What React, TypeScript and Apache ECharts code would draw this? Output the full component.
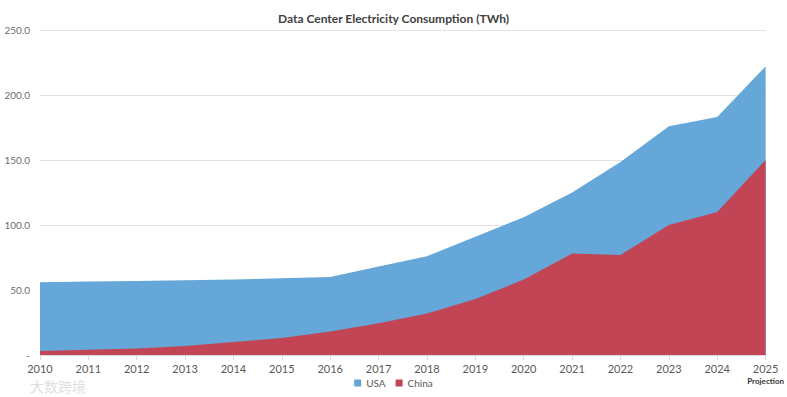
import React, { useEffect, useRef } from "react";
import * as echarts from "echarts";

const years = ["2010","2011","2012","2013","2014","2015","2016","2017","2018","2019","2020","2021","2022","2023","2024","2025"];
const usa = [56, 56.5, 57, 57.5, 58, 59, 60, 68, 76, 91, 106, 125, 148.5, 176, 183, 222];
const china = [3, 4, 5, 7, 10, 13, 18, 24.5, 32, 43, 58, 78, 77, 100, 110, 150];
const yTicks = [0, 50, 100, 150, 200, 250];

export default function App() {
  const ref = useRef<HTMLDivElement>(null);
  useEffect(() => {
    const chart = echarts.init(ref.current!, null, { renderer: "svg" });
    const font = "Lato, 'Open Sans', sans-serif";
    chart.setOption({
      animation: false,
      backgroundColor: "#ffffff",
      title: {
        text: "Data Center Electricity Consumption (TWh)",
        left: "center",
        top: 7,
        textStyle: { fontFamily: font, fontSize: 12, fontWeight: "bold", color: "#404040" },
      },
      grid: { left: 40, right: 21, top: 30, bottom: 42 },
      legend: {
        bottom: 4,
        left: "center",
        itemWidth: 7,
        itemHeight: 7,
        itemGap: 10,
        icon: "rect",
        textStyle: { fontFamily: font, fontSize: 10, color: "#595959" },
        data: ["USA", "China"],
      },
      xAxis: {
        type: "category",
        data: years,
        boundaryGap: false,
        axisLine: { lineStyle: { color: "#d9d9d9" } },
        axisTick: { show: true, lineStyle: { color: "#d9d9d9" } },
        axisLabel: {
          fontFamily: font,
          fontSize: 11,
          color: "#595959",
          margin: 8,
          interval: 0,
          formatter: (v: string) => (v === "2025" ? v + "\n{p|Projection}" : v),
          rich: {
            p: { fontFamily: font, fontSize: 8, fontWeight: "bold", color: "#333333", lineHeight: 14 },
          },
        },
      },
      yAxis: {
        type: "value",
        min: yTicks[0],
        max: yTicks[yTicks.length - 1],
        interval: 50,
        axisLine: { show: false },
        axisTick: { show: false },
        splitLine: { lineStyle: { color: "#e3e3e3" } },
        axisLabel: {
          fontFamily: font,
          fontSize: 10,
          color: "#6e6e6e",
          margin: 10,
          formatter: (v: number) => (v === 0 ? "-" : v.toFixed(1)),
        },
      },
      series: [
        {
          name: "USA",
          type: "line",
          data: usa,
          symbol: "none",
          lineStyle: { width: 0 },
          itemStyle: { color: "#64a7d8" },
          areaStyle: { color: "#64a7d8", opacity: 1 },
          z: 1,
        },
        {
          name: "China",
          type: "line",
          data: china,
          symbol: "none",
          lineStyle: { width: 0 },
          itemStyle: { color: "#c24556" },
          areaStyle: { color: "#c24556", opacity: 1 },
          z: 2,
        },
      ],
      graphic: [
        {
          type: "text",
          left: 30,
          top: 379,
          style: {
            text: "大数跨境",
            fontFamily: "'Noto Sans CJK SC'",
            fontSize: 14,
            fill: "rgba(200,200,200,0.6)",
          },
        },
      ],
    });
    return () => chart.dispose();
  }, []);
  return <div ref={ref} style={{ position: "fixed", left: 0, top: 0, width: 787, height: 397 }} />;
}
